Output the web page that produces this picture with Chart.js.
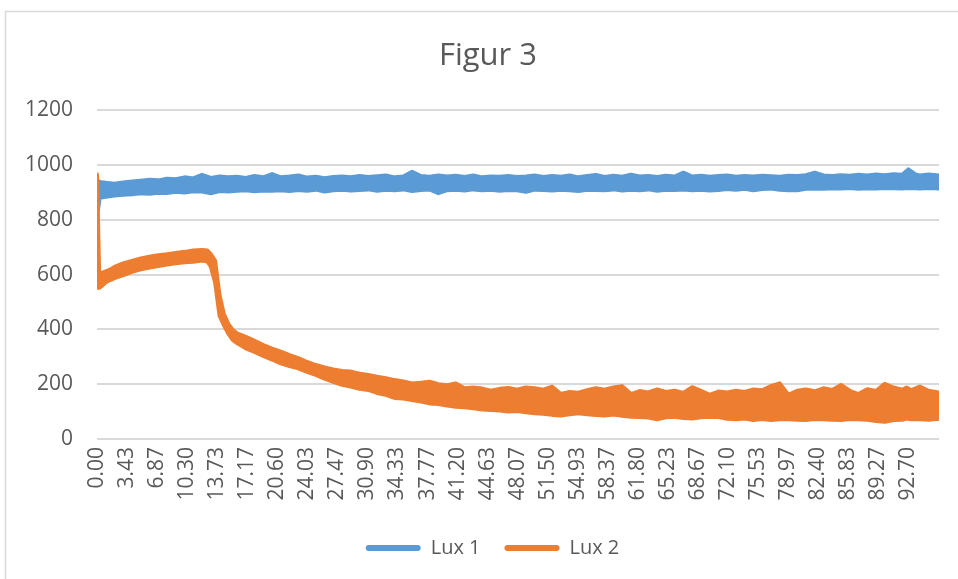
<!DOCTYPE html>
<html>
<head>
<meta charset="utf-8">
<script src="https://cdn.jsdelivr.net/npm/chart.js@4.4.1/dist/chart.umd.min.js"></script>
<style>
  html, body { margin: 0; padding: 0; background: #fff; }
  #wrap { width: 958px; height: 579px; }
</style>
</head>
<body>
<div id="wrap"><canvas id="chart" width="958" height="579"></canvas></div>
<script>
// --- DATA (bands are upper/lower edge of the noisy trace) ---
const xTickLabels = ['0.00', '3.43', '6.87', '10.30', '13.73', '17.17', '20.60', '24.03', '27.47', '30.90',
  '34.33', '37.77', '41.20', '44.63', '48.07', '51.50', '54.93', '58.37', '61.80', '65.23',
  '68.67', '72.10', '75.53', '78.97', '82.40', '85.83', '89.27', '92.70'];
const yTickValues = [0, 200, 400, 600, 800, 1000, 1200];

// Lux 1 (blue)
const lux1Time = [0, 0.3, 1, 2, 3, 4, 5, 6, 7, 8, 9, 10, 11, 12, 13, 14, 15, 16, 17, 18, 19, 20,
  21, 22, 23, 24, 25, 26, 27, 28, 29, 30, 31, 32, 33, 34, 35, 36, 37, 38, 39, 40,
  41, 42, 43, 44, 45, 46, 47, 48, 49, 50, 51, 52, 53, 54, 55, 56, 57, 58, 59, 60,
  61, 62, 63, 64, 65, 66, 67, 68, 69, 70, 71, 72, 73, 74, 75, 76, 77, 78, 79, 80,
  81, 82, 83, 84, 85, 86, 87, 88, 89, 90, 91, 92, 92.7, 93.5, 94, 95, 96.2];
const lux1High = [945, 938, 935, 932, 936, 940, 943, 946, 944, 950, 948, 955, 951, 964, 953, 958, 955, 957, 953, 960, 955, 967,
  955, 958, 962, 954, 957, 952, 956, 958, 955, 960, 956, 959, 962, 955, 958, 975, 960, 957, 962, 958,
  961, 956, 962, 955, 958, 957, 960, 956, 958, 962, 956, 960, 957, 962, 955, 960, 964, 956, 961, 957,
  965, 958, 960, 956, 961, 958, 972, 958, 961, 957, 960, 962, 957, 960, 958, 961, 959, 957, 961, 960,
  963, 972, 962, 960, 963, 961, 964, 962, 965, 963, 966, 964, 984, 966, 962, 965, 962];
const lux1Low = [810, 880, 884, 889, 891, 893, 897, 895, 899, 898, 902, 900, 904, 903, 897, 905, 903, 906, 908, 904, 907, 906,
  908, 905, 909, 906, 910, 903, 908, 910, 907, 909, 911, 906, 910, 908, 911, 905, 909, 911, 897, 908,
  910, 907, 911, 908, 910, 906, 909, 908, 902, 910, 909, 907, 910, 908, 905, 910, 909, 908, 911, 907,
  910, 908, 911, 906, 910, 909, 911, 908, 910, 907, 909, 912, 910, 913, 908, 912, 914, 910, 908, 908,
  913, 914, 913, 915, 914, 916, 913, 915, 914, 916, 915, 914, 916, 915, 914, 916, 914];

// Lux 2 (orange)
const lux2Time = [0, 0.25, 0.6, 1, 1.5, 2, 3, 4, 5, 6, 7, 8, 9, 10, 11, 12, 12.6, 13, 13.5, 14, 14.5, 15, 15.5, 16,
  17, 18, 19, 20, 21, 22, 23, 24, 25, 26, 27, 28, 29, 30, 31, 32, 33, 34, 35, 36, 37, 38, 39, 40,
  41, 42, 43, 44, 45, 46, 47, 48, 49, 50, 51, 52, 53, 54, 55, 56, 57, 58, 59, 60,
  61, 62, 63, 64, 65, 66, 67, 68, 69, 70, 71, 72, 73, 74, 75, 76, 77, 78, 79, 80,
  81, 82, 83, 84, 85, 86, 87, 88, 89, 90, 91, 92, 92.5, 93, 94, 95, 96.2];
const lux2High = [965, 600, 607, 612, 618, 628, 641, 650, 659, 665, 671, 674, 679, 683, 688, 690, 688, 675, 650, 525, 455, 420, 398, 386,
  373, 358, 343, 330, 319, 306, 295, 281, 270, 261, 254, 248, 246, 238, 234, 227, 222, 215, 210, 203, 205, 209, 200, 196,
  203, 185, 188, 184, 176, 183, 186, 180, 188, 185, 180, 191, 164, 172, 169, 178, 185, 180, 188, 193,
  164, 175, 170, 181, 172, 176, 168, 189, 176, 161, 173, 170, 176, 172, 181, 178, 193, 203, 161, 176,
  181, 174, 185, 179, 197, 176, 164, 182, 175, 201, 188, 180, 188, 178, 191, 176, 170];
const lux2Low = [552, 552, 560, 572, 580, 587, 598, 610, 619, 626, 631, 637, 641, 645, 647, 651, 648, 630, 570, 450, 415, 385, 362, 350,
  331, 318, 303, 290, 276, 266, 258, 245, 234, 220, 209, 198, 191, 183, 179, 168, 161, 150, 148, 142, 137, 130, 128, 122,
  118, 116, 112, 108, 106, 104, 100, 102, 98, 94, 92, 88, 86, 90, 94, 90, 88, 86, 89, 85,
  81, 80, 78, 72, 79, 81, 77, 75, 79, 81, 80, 74, 72, 75, 69, 73, 69, 72, 72, 70,
  69, 73, 72, 70, 69, 73, 72, 70, 66, 63, 69, 70, 75, 72, 72, 70, 74];

// --- STYLE ---
const BLUE = '#5B9BD5';
const ORANGE = '#ED7D31';
const TEXT = '#595959';
const GRID = '#D9D9D9';
const FONT = "'Open Sans', 'Noto Sans', sans-serif";

const toPoints = (times, vals) => times.map((t, i) => ({ x: t, y: vals[i] }));

function bandDataset(label, times, vals, color, fill, order) {
    return {
        label: label,
        data: toPoints(times, vals),
        borderColor: color,
        backgroundColor: color,
        borderWidth: 4,
        borderJoinStyle: 'round',
        borderCapStyle: 'round',
        pointRadius: 0,
        tension: 0,
        fill: fill,
        order: order
    };
}

// white background + thin outer frame like the Excel chart area
const framePlugin = {
    id: 'frame',
    beforeDraw(chart) {
        const c = chart.ctx;
        c.save();
        c.fillStyle = '#fff';
        c.fillRect(0, 0, chart.width, chart.height);
        c.strokeStyle = GRID;
        c.lineWidth = 1.5;
        c.beginPath();
        c.moveTo(5.5, chart.height);
        c.lineTo(5.5, 11.5);
        c.lineTo(chart.width, 11.5);
        c.stroke();
        c.restore();
    }
};

// Excel centres title and legend a little right of the canvas middle
const centerPlugin = {
    id: 'centerShift',
    afterLayout(chart) {
        if (chart.titleBlock) chart.titleBlock.left = 37;
        if (chart.legend) chart.legend.left = 46;
    }
};

new Chart(document.getElementById('chart'), {
    type: 'line',
    data: {
        datasets: [
            bandDataset('Lux 1 low', lux1Time, lux1Low, BLUE, false, 2),
            bandDataset('Lux 1', lux1Time, lux1High, BLUE, '-1', 2),
            bandDataset('Lux 2 low', lux2Time, lux2Low, ORANGE, false, 1),
            bandDataset('Lux 2', lux2Time, lux2High, ORANGE, '-1', 1)
        ]
    },
    options: {
        responsive: false,
        animation: false,
        layout: { padding: { left: 22, right: 19, top: 0, bottom: 11 } },
        scales: {
            x: {
                type: 'linear',
                min: 0,
                max: 96.2,
                afterBuildTicks: axis => { axis.ticks = xTickLabels.map(l => ({ value: parseFloat(l) })); },
                afterFit: scale => { scale.height = 75; },
                ticks: {
                    autoSkip: false,
                    minRotation: 90,
                    maxRotation: 90,
                    padding: 8,
                    color: TEXT,
                    font: { family: FONT, size: 21 },
                    callback: (v, i) => xTickLabels[i]
                },
                grid: { display: false, drawTicks: false },
                border: { display: false }
            },
            y: {
                min: 0,
                max: 1200,
                afterBuildTicks: axis => { axis.ticks = yTickValues.map(v => ({ value: v })); },
                afterFit: scale => { scale.width = 75; },
                ticks: {
                    padding: 24,
                    color: TEXT,
                    font: { family: FONT, size: 21 },
                    callback: v => String(v)
                },
                grid: { color: GRID, lineWidth: 2, drawTicks: false },
                border: { display: false }
            }
        },
        plugins: {
            title: {
                display: true,
                text: 'Figur 3',
                color: TEXT,
                font: { family: FONT, size: 31, weight: 'normal' },
                padding: { top: 38, bottom: 35 }
            },
            legend: {
                position: 'bottom',
                labels: {
                    color: TEXT,
                    font: { family: FONT, size: 20 },
                    boxWidth: 55,
                    boxHeight: 6,
                    padding: 24,
                    useBorderRadius: true,
                    generateLabels: () => [
                        { text: 'Lux 1', fillStyle: BLUE, strokeStyle: BLUE, lineWidth: 0, borderRadius: 3, fontColor: TEXT, hidden: false, datasetIndex: 1 },
                        { text: 'Lux 2', fillStyle: ORANGE, strokeStyle: ORANGE, lineWidth: 0, borderRadius: 3, fontColor: TEXT, hidden: false, datasetIndex: 3 }
                    ]
                }
            },
            tooltip: { enabled: false }
        }
    },
    plugins: [framePlugin, centerPlugin]
});
</script>
</body>
</html>
